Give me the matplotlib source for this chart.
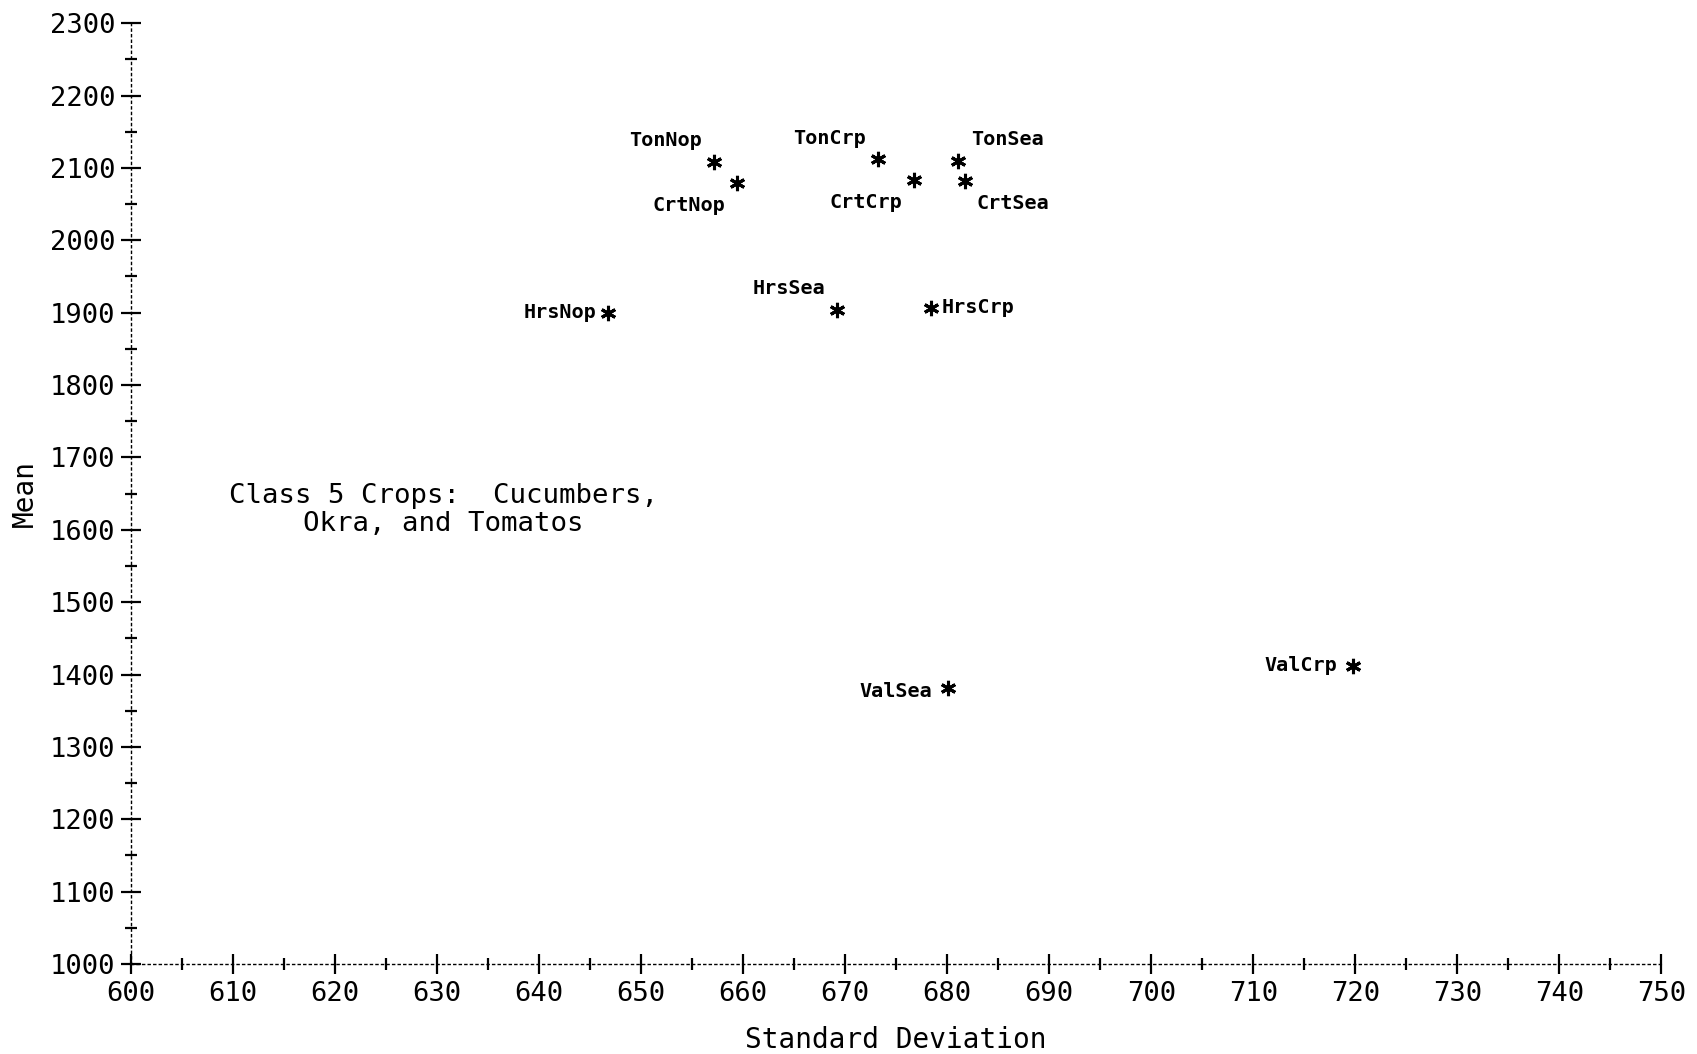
import numpy as np
import matplotlib
matplotlib.use("Agg")
import matplotlib.pyplot as plt
from matplotlib.ticker import MultipleLocator

plt.rcParams['font.family'] = ['DejaVu Sans Mono', 'DejaVu Sans']

# standard deviation and mean for each site/treatment
names = ['TonNop', 'CrtNop', 'TonCrp', 'CrtCrp', 'TonSea', 'CrtSea',
         'HrsNop', 'HrsSea', 'HrsCrp', 'ValSea', 'ValCrp']
std_dev = [657.1, 659.4, 673.2, 676.7, 681.1, 681.7,
           646.8, 669.2, 678.4, 680.1, 719.8]
means = [2108, 2079, 2112, 2084, 2109, 2082,
         1900, 1904, 1907, 1381, 1412]

# where each name sits relative to its point (pixels)
label_offsets = [(-48, 22), (-48, -22), (-48, 21), (-48, -23), (49, 22), (48, -23),
                 (-48, 0), (-48, 21), (47, 0), (-52, -3), (-52, 0)]

fig = plt.figure(figsize=(16.97, 10.54), dpi=100)
ax = fig.add_axes([0.0772, 0.0854, 0.9018, 0.8926])

ax.plot(std_dev, means, linestyle='none', marker=(6, 2, 0),
        markersize=11, markeredgewidth=2.2, color='black')

for nm, x, y, off in zip(names, std_dev, means, label_offsets):
    ax.annotate(nm, (x, y), xytext=off, textcoords='offset pixels',
                ha='center', va='center', fontsize=14.5, fontweight='bold')

ax.text(630.6, 1628, 'Class 5 Crops:  Cucumbers,\nOkra, and Tomatos',
        ha='center', va='center', multialignment='center', fontsize=19.7,
        linespacing=1.1)

ax.set_xlim(600, 750)
ax.set_ylim(1000, 2300)
ax.xaxis.set_major_locator(MultipleLocator(10))
ax.xaxis.set_minor_locator(MultipleLocator(5))
ax.yaxis.set_major_locator(MultipleLocator(100))
ax.yaxis.set_minor_locator(MultipleLocator(50))

ax.tick_params(which='major', direction='inout', length=14.5, width=1.6,
               labelsize=19.5, color='black')
ax.tick_params(which='minor', direction='inout', length=9, width=1.6)
ax.tick_params(axis='x', which='major', pad=5)
ax.tick_params(axis='y', which='major', pad=4)

for side in ['top', 'right']:
    ax.spines[side].set_visible(False)
for side in ['left', 'bottom']:
    ax.spines[side].set_linestyle((0, (1.5, 2.5)))
    ax.spines[side].set_linewidth(1.0)

ax.set_xlabel('Standard Deviation', fontsize=20, labelpad=14)
ax.set_ylabel('Mean', fontsize=20, labelpad=8)

fig.savefig('out.png', dpi=100)
